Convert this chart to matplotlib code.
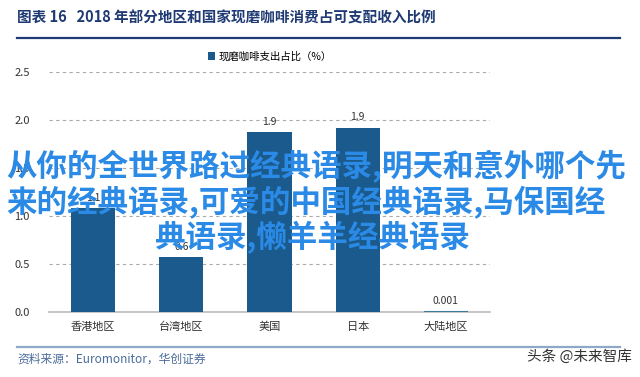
import matplotlib.pyplot as plt
from matplotlib.lines import Line2D

plt.rcParams['font.family'] = ['Noto Sans CJK SC', 'DejaVu Sans']

# data
regions = ['香港地区', '台湾地区', '美国', '日本', '大陆地区']
share = [1.08, 0.57, 1.87, 1.92, 0.001]
share_labels = ['1.1', '0.6', '1.9', '1.9', '0.001']
y_ticks = [0.0, 0.5, 1.0, 1.5, 2.0, 2.5]

bar_color = '#1b5a8c'
title_color = '#1f3a73'

fig = plt.figure(figsize=(6.4, 3.77), dpi=100)
ax = fig.add_axes([49 / 640, 65 / 377, 441 / 640, 240 / 377])

x = range(len(regions))
bars = ax.bar(x, share, width=0.5, color=bar_color, label='现磨咖啡支出占比（%）', zorder=3)
# the 0.001 bar is only a hairline in the original
bars[-1].set_edgecolor('#3f7a9a')
bars[-1].set_linewidth(1.5)

for xi, v, lab in zip(x, share, share_labels):
    ax.annotate(lab, (xi, v), xytext=(0, 4), textcoords='offset points',
                ha='center', va='bottom', fontsize=7.5, color='#333333')

ax.set_xlim(-0.5, len(regions) - 0.5)
ax.set_ylim(0, 2.5)
ax.set_yticks(y_ticks)
ax.set_yticklabels([f'{t:.1f}' for t in y_ticks])
ax.set_xticks(list(x))
ax.set_xticklabels(regions)
ax.tick_params(axis='both', length=0, labelsize=8, colors='#333333')
ax.tick_params(axis='y', pad=14)
ax.tick_params(axis='x', pad=7)
ax.yaxis.grid(True, linestyle=(0, (3, 3)), color='#aaaaaa', linewidth=0.8, zorder=0)
for s in ['top', 'right', 'left']:
    ax.spines[s].set_visible(False)
ax.spines['bottom'].set_color('#bbbbbb')
ax.spines['bottom'].set_linewidth(1.2)

ax.legend(loc='lower center', bbox_to_anchor=(0.5, 1.0), frameon=False,
          fontsize=7.5, handlelength=0.7, handleheight=0.7, handletextpad=0.3,
          borderaxespad=0.6)

# header
fig.text(17 / 640, 1 - 18 / 377, '图表 16   2018 年部分地区和国家现磨咖啡消费占可支配收入比例',
         fontsize=10.5, fontweight='bold', color=title_color, va='center', ha='left')
fig.add_artist(Line2D([17 / 640, 620 / 640], [1 - 38 / 377] * 2, color=title_color, linewidth=1.6))

# footer
fig.add_artist(Line2D([17 / 640, 620 / 640], [1 - 347 / 377] * 2, color='#8ea9c8', linewidth=1.6))
fig.text(17 / 640, 1 - 359 / 377, '资料来源：Euromonitor，华创证券', fontsize=8.5,
         style='italic', color='#4a6b9a', va='center', ha='left',
         family=['Noto Sans CJK SC', 'DejaVu Serif'])
fig.text(632 / 640, 1 - 357 / 377, '头条 @未来智库', fontsize=10.5, color='#333333',
         va='center', ha='right')

# overlaid caption
overlay_color = '#2a8ae6'
fig.text(6 / 640, 1 - 167 / 377, '从你的全世界路过经典语录,明天和意外哪个先',
         fontsize=22, fontweight='bold', color=overlay_color, va='center', ha='left')
fig.text(6 / 640, 1 - 203 / 377, '来的经典语录,可爱的中国经典语录,马保国经',
         fontsize=22, fontweight='bold', color=overlay_color, va='center', ha='left')
fig.text(312 / 640, 1 - 238 / 377, '典语录,懒羊羊经典语录',
         fontsize=22, fontweight='bold', color=overlay_color, va='center', ha='center')

fig.savefig('out.png', dpi=100)
